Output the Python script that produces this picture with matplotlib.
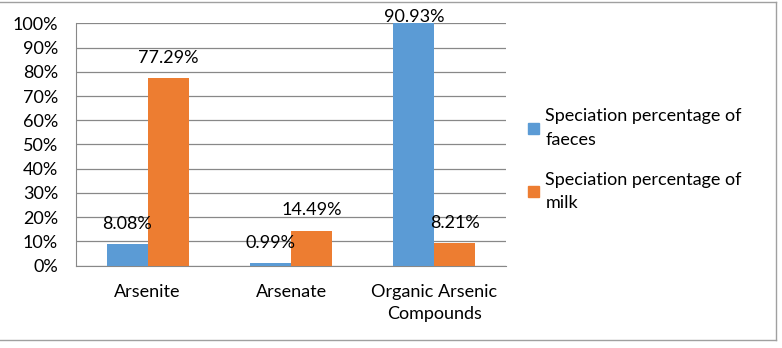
import numpy as np
import matplotlib as mpl
mpl.use('Agg')
import matplotlib.pyplot as plt
from matplotlib.lines import Line2D
from matplotlib.patches import Patch

# data (bar heights as drawn, labels as printed)
categories = ["Arsenite", "Arsenate", "Organic Arsenic\nCompounds"]
faeces = [8.95, 0.99, 100.0]
milk = [77.29, 14.49, 9.2]
faeces_labels = ["8.08%", "0.99%", "90.93%"]
milk_labels = ["77.29%", "14.49%", "8.21%"]
series_names = ["Speciation percentage of\nfaeces", "Speciation percentage of\nmilk"]

blue = "#5B9BD5"
orange = "#ED7D31"
gridgray = "#888888"

plt.rcParams['font.family'] = ['Lato', 'DejaVu Sans']
fs = 13

W, H = 782, 348
fig = plt.figure(figsize=(W / 100, H / 100), dpi=100)
ax = fig.add_axes([76 / W, 1 - 265.7 / H, 430 / W, 242.4 / H])

x = np.arange(len(categories))
bw = 0.286
ax.bar(x - bw / 2, faeces, bw, color=blue, zorder=3)
ax.bar(x + bw / 2, milk, bw, color=orange, zorder=3)

off = 8.3  # ~20px above bar top
for i in range(len(categories)):
    ax.text(x[i] - bw / 2, min(faeces[i] + off, 102.6), faeces_labels[i], ha='center', va='center',
            fontsize=fs, clip_on=False, zorder=4)
    ax.text(x[i] + bw / 2, min(milk[i] + off, 102.6), milk_labels[i], ha='center', va='center',
            fontsize=fs, clip_on=False, zorder=4)

ax.set_xlim(-0.5, 2.5)
ax.set_ylim(0, 100)
ax.set_yticks(np.arange(0, 101, 10))
ax.set_yticklabels([f"{v}%" for v in range(0, 101, 10)])
ax.set_xticks(x)
ax.set_xticklabels(categories, linespacing=1.5)
ax.tick_params(axis='y', length=0, pad=13, labelsize=fs)
ax.tick_params(axis='x', length=0, pad=13, labelsize=fs)
ax.grid(axis='y', color=gridgray, linewidth=0.9, zorder=0)
for s in ['top', 'right']:
    ax.spines[s].set_visible(False)
ax.spines['left'].set_color(gridgray)
ax.spines['bottom'].set_color(gridgray)

handles = [Patch(color=blue), Patch(color=orange)]
leg = fig.legend(handles, series_names, loc='upper left', bbox_to_anchor=(512 / W, 1 - 92 / H),
                 frameon=False, fontsize=fs, handlelength=0.6, handleheight=0.6, handletextpad=0.35,
                 labelspacing=1.3)
for t in leg.get_texts():
    t.set_linespacing(1.6)

# outer frame
fr = "#A0A0A0"
fig.add_artist(Line2D([0, 776 / W], [1 - 2 / H, 1 - 2 / H], color=fr, linewidth=1))
fig.add_artist(Line2D([776 / W, 776 / W], [1 - 2 / H, 1 - 340 / H], color=fr, linewidth=1))
fig.add_artist(Line2D([0, 776 / W], [1 - 340 / H, 1 - 340 / H], color=fr, linewidth=1))

plt.savefig("out.png", dpi=100)
